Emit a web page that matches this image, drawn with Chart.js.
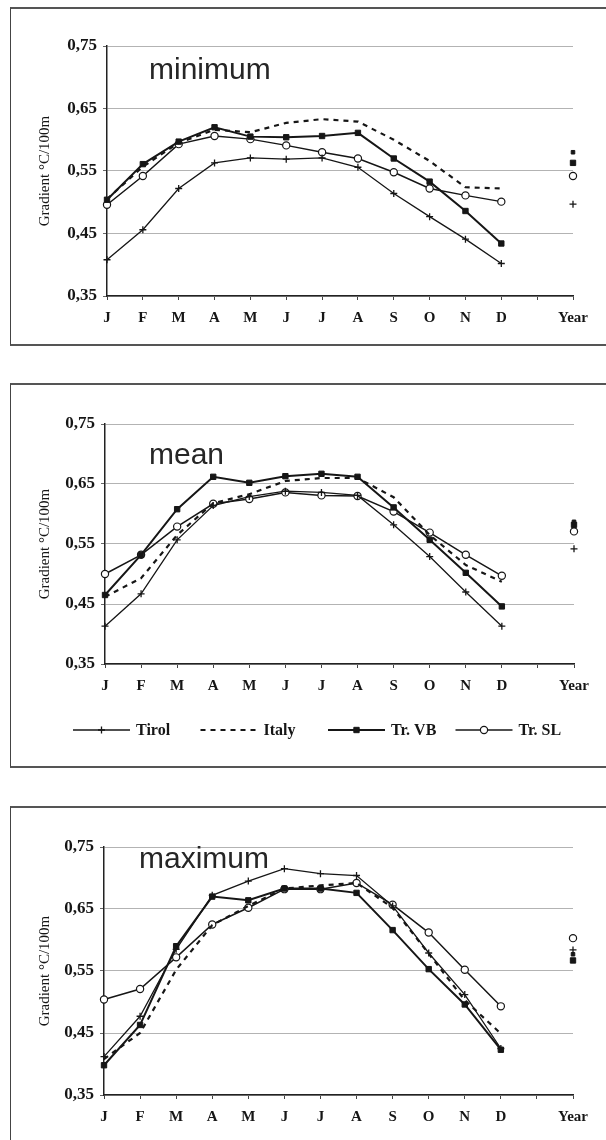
<!DOCTYPE html>
<html>
<head>
<meta charset="utf-8">
<title>Monthly temperature gradients</title>
<script src="https://cdn.jsdelivr.net/npm/chart.js@4.4.1/dist/chart.umd.min.js"></script>
<style>
  html, body { margin: 0; padding: 0; background: #fff; }
  body { position: relative; width: 606px; height: 1140px; overflow: hidden; }
  .frame {
    position: absolute; left: 10px; width: 620px; box-sizing: border-box;
    border-top: 2px solid #555; border-left: 1.5px solid #444; border-bottom: 2px solid #555;
  }
  canvas { position: absolute; }
</style>
</head>
<body>
<div class="frame" style="top:7px;height:339px"></div>
<div class="frame" style="top:383px;height:385px"></div>
<div class="frame" style="top:806px;height:360px"></div>
<canvas id="minChart" width="595" height="336" style="left:11px;top:9px"></canvas>
<canvas id="meanChart" width="595" height="383" style="left:11px;top:385px"></canvas>
<canvas id="maxChart" width="595" height="330" style="left:11px;top:810px"></canvas>
<script>
// months, an empty slot, then the annual value
const months = ['J', 'F', 'M', 'A', 'M', 'J', 'J', 'A', 'S', 'O', 'N', 'D', '', 'Year'];
const yTicks = [0.35, 0.45, 0.55, 0.65, 0.75];

// minimum temperature gradients, °C/100m
const tirolMin = [0.408, 0.456, 0.522, 0.563, 0.571, 0.569, 0.571, 0.556, 0.514, 0.477, 0.441, 0.402, null, 0.497];
const italyMin = [0.505, 0.557, 0.595, 0.616, 0.612, 0.627, 0.633, 0.629, 0.600, 0.566, 0.524, 0.522, null, 0.580];
const vbMin    = [0.504, 0.561, 0.597, 0.620, 0.605, 0.604, 0.606, 0.611, 0.570, 0.533, 0.486, 0.434, null, 0.563];
const slMin    = [0.496, 0.542, 0.593, 0.606, 0.601, 0.591, 0.580, 0.570, 0.548, 0.522, 0.511, 0.501, null, 0.542];

// mean
const tirolMean = [0.413, 0.467, 0.557, 0.614, 0.629, 0.638, 0.636, 0.631, 0.582, 0.529, 0.470, 0.413, null, 0.542];
const italyMean = [0.462, 0.493, 0.565, 0.618, 0.633, 0.655, 0.660, 0.660, 0.628, 0.565, 0.515, 0.487, null, 0.587];
const vbMean    = [0.465, 0.532, 0.608, 0.662, 0.652, 0.663, 0.667, 0.662, 0.611, 0.557, 0.502, 0.446, null, 0.582];
const slMean    = [0.500, 0.532, 0.579, 0.617, 0.625, 0.636, 0.631, 0.630, 0.604, 0.569, 0.532, 0.497, null, 0.571];

// maximum
const tirolMax = [0.412, 0.477, 0.585, 0.672, 0.695, 0.715, 0.707, 0.704, 0.655, 0.579, 0.512, 0.425, null, 0.584];
const italyMax = [0.408, 0.450, 0.552, 0.624, 0.655, 0.683, 0.688, 0.692, 0.652, 0.578, 0.503, 0.449, null, 0.577];
const vbMax    = [0.398, 0.463, 0.590, 0.670, 0.664, 0.683, 0.683, 0.676, 0.616, 0.553, 0.496, 0.423, null, 0.567];
const slMax    = [0.504, 0.521, 0.572, 0.625, 0.652, 0.682, 0.682, 0.692, 0.657, 0.612, 0.552, 0.493, null, 0.603];

const ink = '#161616';
const serif = '"Liberation Serif", "Times New Roman", serif';

function buildDatasets(tirol, italy, vb, sl) {
    return [
        { label: 'Tirol', data: tirol, borderColor: ink, backgroundColor: ink, borderWidth: 1.3,
          pointStyle: 'cross', pointRadius: 3.5, pointBorderWidth: 1.3 },
        { label: 'Italy', data: italy, borderColor: ink, backgroundColor: ink, borderWidth: 2.2,
          borderDash: [5, 5], pointStyle: 'rect',
          pointRadius: c => c.dataIndex === 13 ? 2.5 : 0, pointBorderWidth: 1 },
        { label: 'Tr. VB', data: vb, borderColor: ink, backgroundColor: ink, borderWidth: 2,
          pointStyle: 'rect', pointRadius: 3.8, pointBorderWidth: 1 },
        { label: 'Tr. SL', data: sl, borderColor: ink, backgroundColor: '#fff', borderWidth: 1.5,
          pointStyle: 'circle', pointRadius: 3.6, pointBorderWidth: 1.2 }
    ];
}

// small marker painter for the key
function drawMarker(ctx, style, x, y, r, fill, stroke, bw) {
    ctx.save();
    ctx.lineWidth = bw;
    ctx.strokeStyle = stroke;
    ctx.fillStyle = fill;
    ctx.beginPath();
    if (style === 'cross') {
        ctx.moveTo(x - r, y); ctx.lineTo(x + r, y);
        ctx.moveTo(x, y - r); ctx.lineTo(x, y + r);
        ctx.stroke();
    } else if (style === 'rect') {
        const s = r * Math.SQRT1_2;
        ctx.rect(x - s, y - s, 2 * s, 2 * s);
        ctx.fill(); ctx.stroke();
    } else {
        ctx.arc(x, y, r, 0, Math.PI * 2);
        ctx.fill(); ctx.stroke();
    }
    ctx.restore();
}

function titlePlugin(text, dx, dy) {
    return {
        id: 'panelTitle',
        beforeDatasetsDraw(chart) {
            const { ctx, chartArea } = chart;
            ctx.save();
            ctx.font = '30px "Liberation Sans", Arial, sans-serif';
            ctx.fillStyle = '#262626';
            ctx.textBaseline = 'alphabetic';
            ctx.fillText(text, chartArea.left + dx, chartArea.top + dy);
            ctx.restore();
        }
    };
}

// key row under the x labels, built from the datasets' own styles
const keyPlugin = {
    id: 'seriesKey',
    afterDraw(chart) {
        const { ctx, chartArea } = chart;
        const y = chartArea.bottom + 66;
        const lineLen = 57, step = 127.5;
        chart.data.datasets.forEach((ds, i) => {
            const x0 = chartArea.left - 32 + i * step;
            ctx.save();
            ctx.strokeStyle = ds.borderColor;
            ctx.lineWidth = ds.borderWidth;
            ctx.setLineDash(ds.borderDash || []);
            ctx.beginPath();
            ctx.moveTo(x0, y);
            ctx.lineTo(x0 + lineLen, y);
            ctx.stroke();
            ctx.restore();
            if (typeof ds.pointRadius === 'number') {
                drawMarker(ctx, ds.pointStyle, x0 + lineLen / 2, y, ds.pointRadius,
                    ds.backgroundColor, ds.borderColor, ds.pointBorderWidth);
            }
            ctx.save();
            ctx.font = 'bold 16px ' + serif;
            ctx.fillStyle = ink;
            ctx.textBaseline = 'middle';
            ctx.fillText(ds.label, x0 + lineLen + 6, y + 1);
            ctx.restore();
        });
    }
};

function makeChart(id, title, sets, box) {
    return new Chart(document.getElementById(id), {
        type: 'line',
        data: { labels: months, datasets: sets },
        options: {
            responsive: false,
            animation: false,
            devicePixelRatio: 1,
            layout: { padding: { top: box.top, right: box.right, bottom: box.bottom, left: 0 } },
            elements: { line: { tension: 0 } },
            plugins: { legend: { display: false }, tooltip: { enabled: false } },
            scales: {
                x: {
                    type: 'category',
                    offset: false,
                    grid: { drawOnChartArea: false, drawTicks: true, tickLength: 4, tickColor: '#444' },
                    border: { color: '#222', width: 1.5 },
                    ticks: { autoSkip: false, maxRotation: 0, padding: 9, color: ink,
                             font: { family: serif, size: 15, weight: 'bold' } },
                    afterFit: s => { s.height = box.xHeight; }
                },
                y: {
                    min: 0.35,
                    max: 0.75,
                    afterBuildTicks: s => { s.ticks = yTicks.map(v => ({ value: v })); },
                    grid: { color: '#b3b3b3', lineWidth: 1, tickLength: 4, tickColor: '#666' },
                    border: { color: '#222', width: 1.5 },
                    ticks: { padding: 6, color: ink,
                             font: { family: serif, size: 17, weight: 'bold' },
                             callback: v => v.toFixed(2).replace('.', ',') },
                    title: { display: true, text: 'Gradient °C/100m', color: ink,
                             font: { family: serif, size: 15 }, padding: { top: 25, bottom: 0 } },
                    afterFit: s => { s.width = box.yWidth; }
                }
            }
        },
        plugins: [titlePlugin(title, box.tdx, box.tdy)].concat(box.key ? [keyPlugin] : [])
    });
}

makeChart('minChart', 'minimum', buildDatasets(tirolMin, italyMin, vbMin, slMin),
    { top: 37, right: 33, bottom: 0, xHeight: 49, yWidth: 96, tdx: 42, tdy: 33 });
makeChart('meanChart', 'mean', buildDatasets(tirolMean, italyMean, vbMean, slMean),
    { top: 39, right: 32, bottom: 58, xHeight: 46, yWidth: 94, tdx: 44, tdy: 40, key: true });
makeChart('maxChart', 'maximum', buildDatasets(tirolMax, italyMax, vbMax, slMax),
    { top: 37, right: 33, bottom: 0, xHeight: 45, yWidth: 93, tdx: 35, tdy: 21 });
</script>
</body>
</html>
